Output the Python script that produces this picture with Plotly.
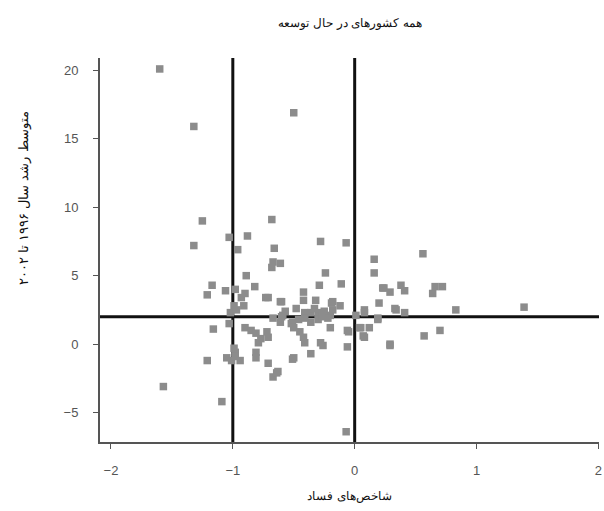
import plotly.graph_objects as go

# Corruption index (x) vs average growth 1996-2002 (y)
corruption_index = [
    -1.60, -1.32, -0.50, -1.25, -0.68, -1.32, -1.03, -0.88, -0.96, -0.66,
    -0.67, -0.61, -0.68, -0.89, -1.17, -1.21, -1.06, -0.98, -0.90, -0.93,
    -0.82, -0.73, -0.71, -0.61, -0.99, -0.91, -0.42, -0.42, -0.32, -0.28,
    -0.07, 0.16, 0.56, 0.16, -0.24, -0.29, -0.11, 0.24, 0.29, 0.38,
    0.41, 0.64, 0.66, 0.72, 0.20, -0.18, -0.12, 0.08, 0.33, 0.83,
    1.39, 0.70, 0.57, 0.29, 0.41, 0.34, 0.19, 0.05, 0.12, 0.07,
    -0.05, -0.06, -0.19, -0.20, -0.20, -0.26, 0.01, -1.02, -1.16, -0.90,
    -0.85, -0.81, -0.72, -0.71, -0.77, -0.79, -0.67, -0.61, -0.59, -0.52,
    -0.81, -0.81, -0.99, -0.98, -1.05, -1.01, -0.94, -1.21, -0.71, -0.63,
    -0.67, -0.50, -0.60, -0.48, -0.41, -0.36, -0.30, -0.30, -0.36, -0.41,
    -0.46, -0.51, -0.60, -0.57, -0.50, -0.45, -0.42, -0.41, -0.28, -0.36,
    -0.51, -0.06, 0.08, 0.04, 0.08, 0.19, 0.29, 0.23, -1.09, -0.07,
    -1.57, -0.64, -0.98, -0.25, -0.22, -0.27, -0.33, -0.18, -0.97, -1.03,
]
growth_rate = [
    20.1, 15.9, 16.9, 9.0, 9.1, 7.2, 7.8, 7.9, 6.9, 7.0,
    6.0, 5.9, 5.6, 5.0, 4.3, 3.6, 3.9, 4.0, 3.7, 3.4,
    4.2, 3.4, 3.4, 3.1, 2.8, 2.8, 3.8, 3.2, 3.2, 7.5,
    7.4, 6.2, 6.6, 5.2, 5.2, 4.3, 4.4, 4.1, 3.8, 4.3,
    3.9, 3.7, 4.2, 4.2, 3.0, 3.1, 2.8, 2.5, 2.6, 2.5,
    2.7, 1.0, 0.6, 0.0, 2.3, 2.5, 1.8, 1.2, 1.2, 0.6,
    0.9, -0.2, 3.0, 2.1, 1.2, -0.1, 2.1, 2.3, 1.1, 1.2,
    1.0, 0.8, 0.9, 0.5, 0.4, 0.1, 1.9, 1.6, 2.1, 1.5,
    -0.6, -1.0, -0.3, -0.6, -1.0, -1.2, -1.2, -1.2, -1.4, -2.0,
    -2.4, -1.0, 3.1, 2.6, 2.3, 2.3, 2.3, 1.8, 1.6, 1.9,
    1.8, 1.6, 2.0, 2.4, 1.2, 0.9, 0.5, 0.1, 0.1, -0.7,
    -1.1, 1.0, 2.3, 1.2, 0.5, 1.9, -0.1, 4.1, -4.2, -6.4,
    -3.1, -2.1, -0.9, 2.4, 1.9, 2.0, 2.6, 2.5, 2.5, 1.5,
]

x_ticks = [-2, -1, 0, 1, 2]
x_tick_text = ["\u22122", "\u22121", "0", "1", "2"]
y_ticks = [-5, 0, 5, 10, 15, 20]
y_tick_text = ["\u22125", "0", "5", "10", "15", "20"]
vertical_cuts = [-1, 0]
horizontal_cut = 2

title_text = "همه کشورهای در حال توسعه"
x_title = "شاخص‌های فساد"
y_title = "متوسط رشد سال ۱۹۹۶ تا ۲۰۰۲"

fig = go.Figure()
fig.add_trace(go.Scatter(
    x=corruption_index, y=growth_rate, mode="markers",
    marker=dict(symbol="square", size=7.5, color="#8c8c8c",
                line=dict(width=0)),
    hoverinfo="x+y", showlegend=False, cliponaxis=False,
))

shapes = []
for xv in vertical_cuts:
    shapes.append(dict(type="line", xref="x", yref="paper", x0=xv, x1=xv,
                       y0=0, y1=1, line=dict(color="#111111", width=3),
                       layer="below"))
shapes.append(dict(type="line", xref="paper", yref="y", x0=0, x1=1,
                   y0=horizontal_cut, y1=horizontal_cut,
                   line=dict(color="#111111", width=3), layer="below"))

tick_font = dict(family="Liberation Sans Narrow, Liberation Sans, Arial", size=13,
                 color="#555555")
label_font = dict(family="DejaVu Serif, Liberation Serif, serif",
                  size=12, color="#111111")

fig.update_layout(
    width=604, height=511,
    margin=dict(l=100, r=2, t=58, b=69),
    paper_bgcolor="white", plot_bgcolor="white",
    shapes=shapes,
    xaxis=dict(range=[-2.09, 2.005], tickvals=x_ticks, ticktext=x_tick_text,
               showgrid=False, zeroline=False, showline=True,
               linecolor="#555555", linewidth=2, ticks="outside", ticklen=5,
               tickcolor="#555555", tickwidth=1, tickfont=tick_font,
               ticklabelstandoff=10, ticklabeloverflow="allow"),
    yaxis=dict(range=[-7.15, 20.9], tickvals=y_ticks, ticktext=y_tick_text,
               showgrid=False, zeroline=False, showline=True,
               linecolor="#555555", linewidth=2, ticks="outside", ticklen=5,
               tickcolor="#555555", tickwidth=1, tickfont=tick_font,
               ticklabelstandoff=12),
    annotations=[
        dict(text=title_text, xref="paper", yref="paper", x=0.5, y=1,
             yshift=44, showarrow=False, font=label_font),
        dict(text=x_title, xref="paper", yref="paper", x=0.5, y=0,
             yshift=-63, showarrow=False, font=label_font),
        dict(text=y_title, xref="paper", yref="paper", x=0, xshift=-86,
             y=0.635, textangle=-90, showarrow=False,
             font=dict(family="DejaVu Serif, Liberation Serif, serif",
                       size=13, color="#111111")),
    ],
)

fig.write_html("out.html")
